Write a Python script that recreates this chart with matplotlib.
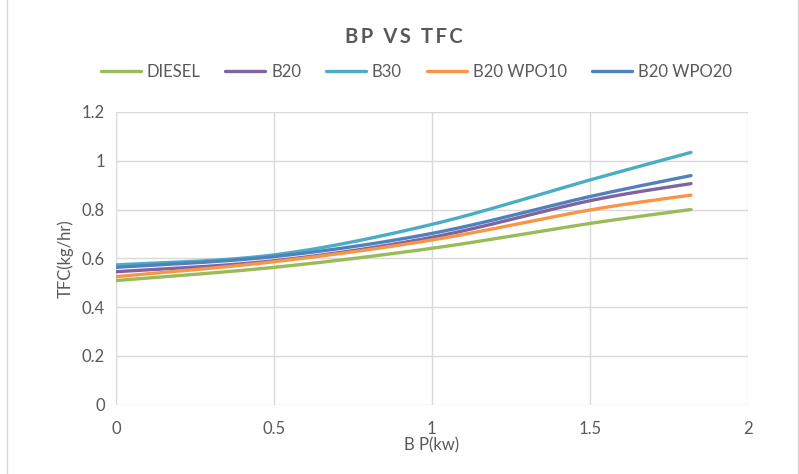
import matplotlib.pyplot as plt
import numpy as np
from matplotlib.patches import Rectangle

# Данные
bp = [0, 0.5, 1, 1.5, 1.82]
diesel = [0.509, 0.563, 0.641, 0.743, 0.800]
b20 = [0.545, 0.590, 0.686, 0.836, 0.906]
b30 = [0.573, 0.614, 0.739, 0.921, 1.034]
b20_wpo10 = [0.525, 0.586, 0.675, 0.798, 0.859]
b20_wpo20 = [0.563, 0.607, 0.702, 0.853, 0.939]

names = ['DIESEL', 'B20', 'B30', 'B20 WPO10', 'B20 WPO20']
series = [diesel, b20, b30, b20_wpo10, b20_wpo20]
colors = ['#9BBB59', '#8064A2', '#4BACC6', '#F79646', '#4F81BD']


# Сглаживание как в Excel (кривые Безье по Catmull-Rom)
def smooth(x, y, n=40):
    p = np.column_stack([x, y]).astype(float)
    ext = np.vstack([p[0], p, p[-1]])
    out = []
    for i in range(len(p) - 1):
        p0, p1, p2, p3 = ext[i], ext[i + 1], ext[i + 2], ext[i + 3]
        c1 = p1 + (p2 - p0) / 6
        c2 = p2 - (p3 - p1) / 6
        t = np.linspace(0, 1, n)[:, None]
        seg = ((1 - t) ** 3 * p1 + 3 * (1 - t) ** 2 * t * c1
               + 3 * (1 - t) * t ** 2 * c2 + t ** 3 * p2)
        out.append(seg if i == 0 else seg[1:])
    out = np.vstack(out)
    return out[:, 0], out[:, 1]


plt.rcParams['font.family'] = ['Lato', 'DejaVu Sans']
txt = '#595959'

fig = plt.figure(figsize=(7.99, 4.74), dpi=100)
ax = fig.add_axes([0.145, 0.146, 0.791, 0.618])
fig.patches.append(Rectangle((0.009, -0.01), 0.99, 1.02, transform=fig.transFigure,
                             fill=False, edgecolor='#D9D9D9', lw=1))

for name, vals, c in zip(names, series, colors):
    sx, sy = smooth(bp, vals)
    ax.plot(sx, sy, color=c, lw=2.4, label=name, solid_capstyle='round')

ax.set_xlim(0, 2)
ax.set_ylim(0, 1.2)
ax.set_xticks([0, 0.5, 1, 1.5, 2])
ax.set_xticklabels(['0', '0.5', '1', '1.5', '2'])
ax.set_yticks([0, 0.2, 0.4, 0.6, 0.8, 1, 1.2])
ax.set_yticklabels(['0', '0.2', '0.4', '0.6', '0.8', '1', '1.2'])
ax.grid(True, color='#D9D9D9', lw=1)
ax.set_axisbelow(True)
for s in ax.spines.values():
    s.set_visible(False)
ax.tick_params(length=0, labelsize=12, labelcolor=txt, pad=8)
ax.tick_params(axis='x', pad=12)

ax.set_xlabel('B P(kw)', fontsize=12, color=txt, labelpad=0)
ax.set_ylabel('TFC(kg/hr)', fontsize=12, color=txt, labelpad=6)

fig.text(0.505, 0.922, 'B\u2009P\u2002V\u2009S\u2002T\u2009F\u2009C', ha='center',
         va='center', fontsize=14.5, fontweight='bold', color=txt)

ax.legend(loc='center', bbox_to_anchor=(0.475, 1.135), ncol=5, frameon=False,
          fontsize=12, labelcolor=txt, handlelength=2.4, handletextpad=0.35,
          columnspacing=1.5)

plt.savefig('out.png', dpi=100)
